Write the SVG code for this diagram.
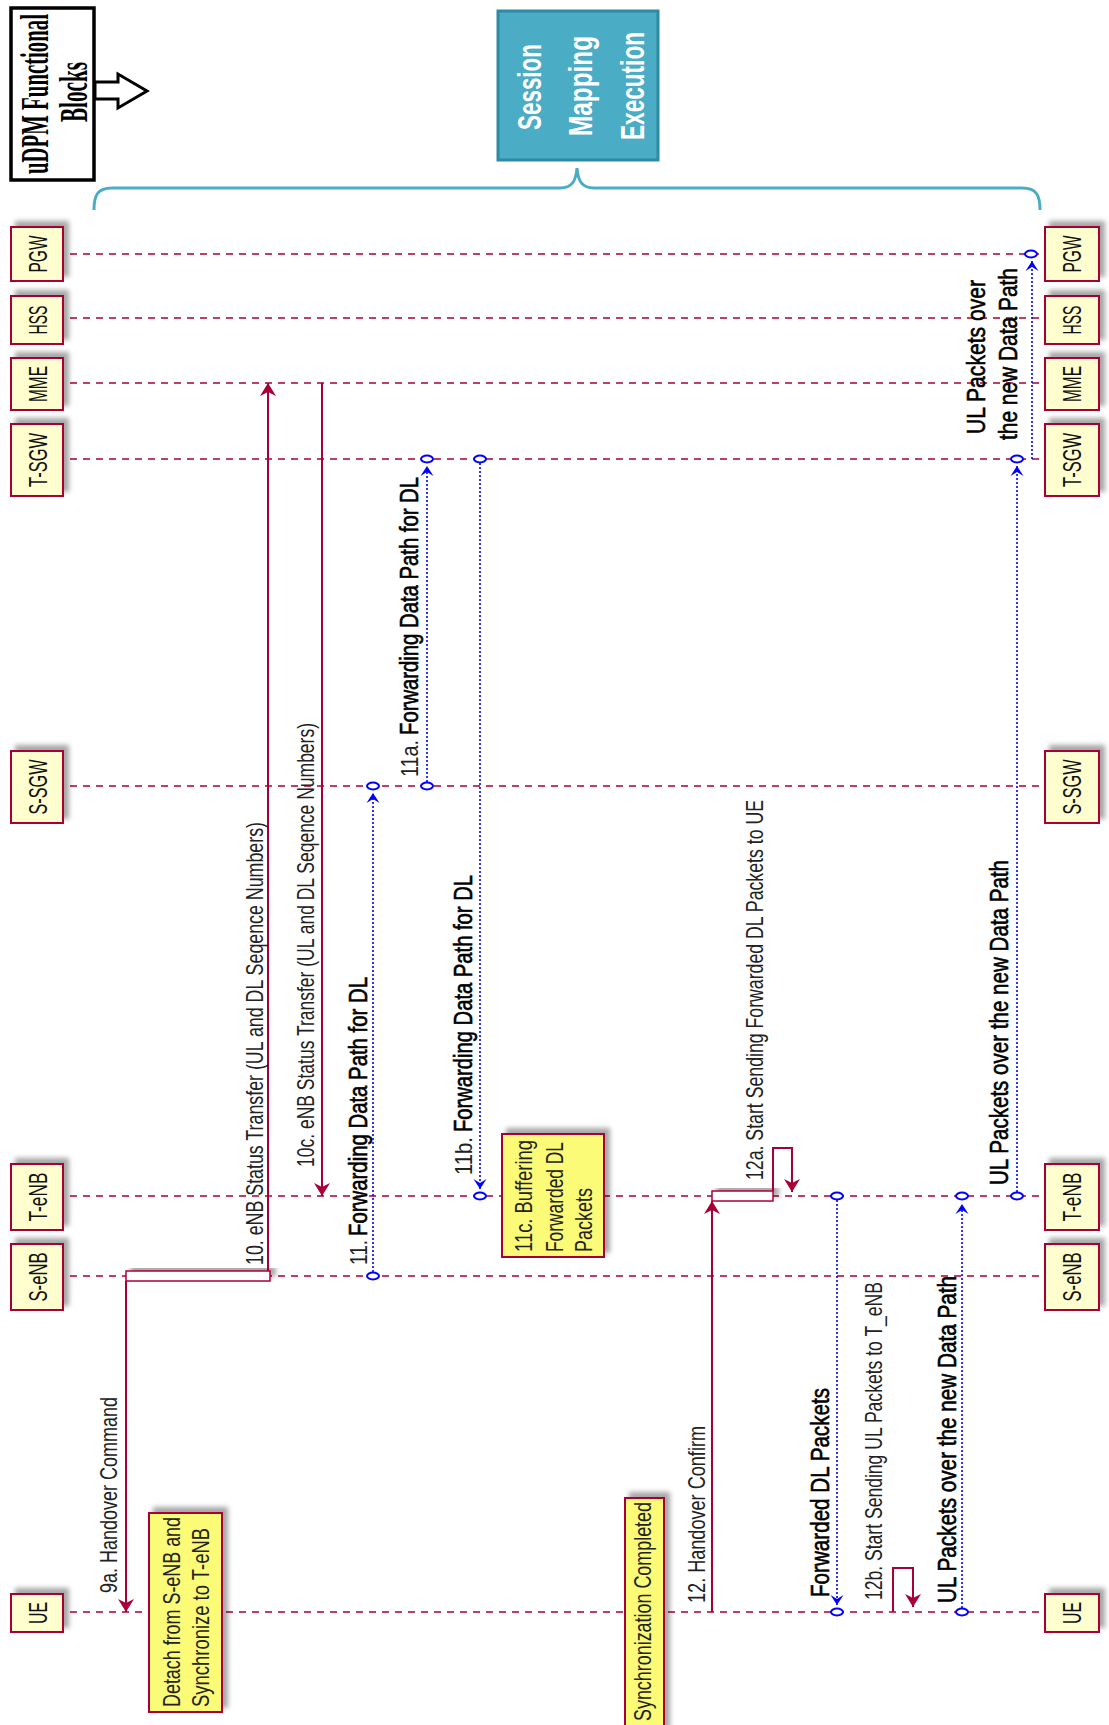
<svg xmlns="http://www.w3.org/2000/svg" width="1109" height="1725" viewBox="0 0 1109 1725">
<style>
.bg{fill:#ffffff}
.pbox{fill:#FEFECE;stroke:#A80036;stroke-width:2;filter:url(#sh)}
.ptxt{font-family:"Liberation Sans",Arial,sans-serif;font-size:26px;fill:#111;text-anchor:middle}
.life{stroke:#A80036;stroke-width:1.3;stroke-dasharray:7 6;fill:none}
.msg{stroke:#A80036;stroke-width:2;fill:none}
.dmsg{stroke:#0000FF;stroke-width:1.6;stroke-dasharray:2 2;fill:none}
.circ{fill:#ffffff;stroke:#0000FF;stroke-width:2}
.act{fill:#ffffff;stroke:#A80036;stroke-width:1.5;filter:url(#sh)}
.note{fill:#FBFB77;stroke:#A80036;stroke-width:2;filter:url(#sh)}
.lbl{font-family:"Liberation Sans",Arial,sans-serif;font-size:24px;fill:#222}
.blbl{font-family:"Liberation Sans",Arial,sans-serif;font-size:25px;font-weight:normal;fill:#000;stroke:#000;stroke-width:0.6}
.ntxt{font-family:"Liberation Sans",Arial,sans-serif;font-size:24px;fill:#222}
.sess{fill:#4BACC6;stroke:#2F89A2;stroke-width:3}
.stxt{font-family:"Liberation Sans",Arial,sans-serif;font-size:33px;font-weight:bold;fill:#ffffff;text-anchor:middle}
.utxt{font-family:"Liberation Serif","Times New Roman",serif;font-size:40px;font-weight:bold;fill:#000;text-anchor:middle}
.brace{fill:none;stroke:#4BACC6;stroke-width:3}
</style>
<defs>
<filter id="sh" x="-30%" y="-30%" width="160%" height="160%">
<feDropShadow dx="5" dy="-5" stdDeviation="2.5" flood-color="#000" flood-opacity="0.35"/>
</filter>
<marker id="ar" viewBox="-14 -9 15 18" refX="0" refY="0" markerWidth="15" markerHeight="18" markerUnits="userSpaceOnUse" orient="auto">
<path d="M0,0 L-13,-8 L-9,0 L-13,8 Z" fill="#A80036"/>
</marker>
<marker id="ab" viewBox="-11 -7 12 14" refX="0" refY="0" markerWidth="12" markerHeight="14" markerUnits="userSpaceOnUse" orient="auto">
<path d="M0,0 L-10,-6.5 L-6,0 L-10,6.5 Z" fill="#0000FF"/>
</marker>
</defs>
<rect class="bg" x="0" y="0" width="1109" height="1725"/>

<g id="header">
<rect x="11" y="8" width="83" height="172" fill="#fff" stroke="#000" stroke-width="3.5"/>
<text class="utxt" transform="translate(48,94) rotate(-90)" textLength="160" lengthAdjust="spacingAndGlyphs">uDPM Functional</text>
<text class="utxt" transform="translate(87,92) rotate(-90)" textLength="60" lengthAdjust="spacingAndGlyphs">Blocks</text>
<polygon points="95,82 118,82 118,74 147,91 118,108 118,99 95,99" fill="#fff" stroke="#000" stroke-width="3" stroke-linejoin="miter"/>
</g>

<g id="session">
<rect class="sess" x="498" y="11" width="160" height="149"/>
<text class="stxt" transform="translate(541,87) rotate(-90)" textLength="86" lengthAdjust="spacingAndGlyphs">Session</text>
<text class="stxt" transform="translate(592,86) rotate(-90)" textLength="100" lengthAdjust="spacingAndGlyphs">Mapping</text>
<text class="stxt" transform="translate(644,86) rotate(-90)" textLength="108" lengthAdjust="spacingAndGlyphs">Execution</text>
<path class="brace" d="M94,210 C94,196 97,188 112,188 L560,188 C572,188 576,181 577,168 C578,181 582,188 594,188 L1022,188 C1037,188 1040,196 1040,210"/>
</g>

<g id="lifelines">
<line class="life" x1="70" y1="254" x2="1045" y2="254"/>
<line class="life" x1="70" y1="318" x2="1045" y2="318"/>
<line class="life" x1="70" y1="383" x2="1045" y2="383"/>
<line class="life" x1="70" y1="459" x2="1045" y2="459"/>
<line class="life" x1="70" y1="786" x2="1045" y2="786"/>
<line class="life" x1="70" y1="1196" x2="1045" y2="1196"/>
<line class="life" x1="70" y1="1276" x2="1045" y2="1276"/>
<line class="life" x1="70" y1="1612" x2="1045" y2="1612"/>
</g>

<g id="PGW">
<rect class="pbox" x="11" y="227" width="52" height="54"/>
<text class="ptxt" transform="translate(47,254) rotate(-90)" textLength="37" lengthAdjust="spacingAndGlyphs">PGW</text>
<rect class="pbox" x="1045" y="227" width="54" height="54"/>
<text class="ptxt" transform="translate(1081,254) rotate(-90)" textLength="37" lengthAdjust="spacingAndGlyphs">PGW</text>
</g>
<g id="HSS">
<rect class="pbox" x="11" y="296" width="52" height="48"/>
<text class="ptxt" transform="translate(47,320) rotate(-90)" textLength="29" lengthAdjust="spacingAndGlyphs">HSS</text>
<rect class="pbox" x="1045" y="296" width="54" height="48"/>
<text class="ptxt" transform="translate(1081,320) rotate(-90)" textLength="29" lengthAdjust="spacingAndGlyphs">HSS</text>
</g>
<g id="MME">
<rect class="pbox" x="11" y="358" width="52" height="52"/>
<text class="ptxt" transform="translate(47,384) rotate(-90)" textLength="36" lengthAdjust="spacingAndGlyphs">MME</text>
<rect class="pbox" x="1045" y="358" width="54" height="52"/>
<text class="ptxt" transform="translate(1081,384) rotate(-90)" textLength="36" lengthAdjust="spacingAndGlyphs">MME</text>
</g>
<g id="T-SGW">
<rect class="pbox" x="11" y="424" width="52" height="72"/>
<text class="ptxt" transform="translate(47,460) rotate(-90)" textLength="54" lengthAdjust="spacingAndGlyphs">T-SGW</text>
<rect class="pbox" x="1045" y="424" width="54" height="72"/>
<text class="ptxt" transform="translate(1081,460) rotate(-90)" textLength="54" lengthAdjust="spacingAndGlyphs">T-SGW</text>
</g>
<g id="S-SGW">
<rect class="pbox" x="11" y="751" width="52" height="72"/>
<text class="ptxt" transform="translate(47,787) rotate(-90)" textLength="55" lengthAdjust="spacingAndGlyphs">S-SGW</text>
<rect class="pbox" x="1045" y="751" width="54" height="72"/>
<text class="ptxt" transform="translate(1081,787) rotate(-90)" textLength="55" lengthAdjust="spacingAndGlyphs">S-SGW</text>
</g>
<g id="T-eNB">
<rect class="pbox" x="11" y="1164" width="52" height="66"/>
<text class="ptxt" transform="translate(47,1197) rotate(-90)" textLength="49" lengthAdjust="spacingAndGlyphs">T-eNB</text>
<rect class="pbox" x="1045" y="1164" width="54" height="66"/>
<text class="ptxt" transform="translate(1081,1197) rotate(-90)" textLength="49" lengthAdjust="spacingAndGlyphs">T-eNB</text>
</g>
<g id="S-eNB">
<rect class="pbox" x="11" y="1244" width="52" height="66"/>
<text class="ptxt" transform="translate(47,1277) rotate(-90)" textLength="49" lengthAdjust="spacingAndGlyphs">S-eNB</text>
<rect class="pbox" x="1045" y="1244" width="54" height="66"/>
<text class="ptxt" transform="translate(1081,1277) rotate(-90)" textLength="49" lengthAdjust="spacingAndGlyphs">S-eNB</text>
</g>
<g id="UE">
<rect class="pbox" x="11" y="1594" width="52" height="38"/>
<text class="ptxt" transform="translate(47,1613) rotate(-90)" textLength="22" lengthAdjust="spacingAndGlyphs">UE</text>
<rect class="pbox" x="1045" y="1594" width="54" height="38"/>
<text class="ptxt" transform="translate(1081,1613) rotate(-90)" textLength="22" lengthAdjust="spacingAndGlyphs">UE</text>
</g>

<g id="activations">
<rect class="act" x="126" y="1271" width="144" height="10"/>
<rect class="act" x="712" y="1191" width="61" height="10"/>
</g>

<g id="notes">
<g id="note-detach">
<rect class="note" x="149" y="1513" width="73" height="199"/>
<text class="ntxt" transform="translate(180,1707) rotate(-90)" textLength="190" lengthAdjust="spacingAndGlyphs">Detach from S-eNB and</text>
<text class="ntxt" transform="translate(209,1707) rotate(-90)" textLength="179" lengthAdjust="spacingAndGlyphs">Synchronize to T-eNB</text>
</g>
<g id="note-11c">
<rect class="note" x="502" y="1134" width="102" height="123"/>
<text class="ntxt" transform="translate(532,1252) rotate(-90)" textLength="112" lengthAdjust="spacingAndGlyphs">11c. Buffering</text>
<text class="ntxt" transform="translate(563,1252) rotate(-90)" textLength="110" lengthAdjust="spacingAndGlyphs">Forwarded DL</text>
<text class="ntxt" transform="translate(592,1252) rotate(-90)" textLength="64" lengthAdjust="spacingAndGlyphs">Packets</text>
</g>
<g id="note-sync">
<rect class="note" x="625" y="1498" width="39" height="235"/>
<text class="ntxt" transform="translate(651,1721) rotate(-90)" textLength="219" lengthAdjust="spacingAndGlyphs">Synchronization Completed</text>
</g>
</g>

<g id="connectors">
<path class="msg" d="M126,1281 V1612" marker-end="url(#ar)"/>
<path class="msg" d="M268,1271 V383" marker-end="url(#ar)"/>
<path class="msg" d="M322,383 V1196" marker-end="url(#ar)"/>
<path class="msg" d="M712,1612 V1201" marker-end="url(#ar)"/>
<path class="msg" d="M773,1191 V1148 H792 V1192" marker-end="url(#ar)"/>
<path class="msg" d="M893,1612 V1568 H913 V1607" marker-end="url(#ar)"/>

<path class="dmsg" d="M373,1276 V793" marker-end="url(#ab)"/>
<path class="dmsg" d="M427,786 V466" marker-end="url(#ab)"/>
<path class="dmsg" d="M480,459 V1189" marker-end="url(#ab)"/>
<path class="dmsg" d="M837,1196 V1605" marker-end="url(#ab)"/>
<path class="dmsg" d="M962,1612 V1204" marker-end="url(#ab)"/>
<path class="dmsg" d="M1017,1196 V466" marker-end="url(#ab)"/>
<path class="dmsg" d="M1032,459 V261" marker-end="url(#ab)"/>

<ellipse class="circ" cx="373" cy="1276" rx="6" ry="3.5"/>
<ellipse class="circ" cx="373" cy="786" rx="6" ry="3.5"/>
<ellipse class="circ" cx="427" cy="786" rx="6" ry="3.5"/>
<ellipse class="circ" cx="427" cy="459" rx="6" ry="3.5"/>
<ellipse class="circ" cx="480" cy="459" rx="6" ry="3.5"/>
<ellipse class="circ" cx="480" cy="1196" rx="6" ry="3.5"/>
<ellipse class="circ" cx="837" cy="1196" rx="6" ry="3.5"/>
<ellipse class="circ" cx="837" cy="1612" rx="6" ry="3.5"/>
<ellipse class="circ" cx="962" cy="1612" rx="6" ry="3.5"/>
<ellipse class="circ" cx="962" cy="1196" rx="6" ry="3.5"/>
<ellipse class="circ" cx="1017" cy="1196" rx="6" ry="3.5"/>
<ellipse class="circ" cx="1017" cy="459" rx="6" ry="3.5"/>
<ellipse class="circ" cx="1031" cy="254" rx="6" ry="3.5"/>

<text class="lbl" transform="translate(117,1593) rotate(-90)" textLength="196" lengthAdjust="spacingAndGlyphs">9a. Handover Command</text>
<text class="lbl" transform="translate(263,1265) rotate(-90)" textLength="443" lengthAdjust="spacingAndGlyphs">10. eNB Status Transfer (UL and DL Seqence Numbers)</text>
<text class="lbl" transform="translate(314,1167) rotate(-90)" textLength="444" lengthAdjust="spacingAndGlyphs">10c. eNB Status Transfer (UL and DL Seqence Numbers)</text>
<text class="lbl" transform="translate(367,1265) rotate(-90)" textLength="25" lengthAdjust="spacingAndGlyphs">11.</text>
<text class="blbl" transform="translate(367,1236) rotate(-90)" textLength="259" lengthAdjust="spacingAndGlyphs">Forwarding Data Path for DL</text>
<text class="lbl" transform="translate(418,777) rotate(-90)" textLength="37" lengthAdjust="spacingAndGlyphs">11a.</text>
<text class="blbl" transform="translate(418,735) rotate(-90)" textLength="258" lengthAdjust="spacingAndGlyphs">Forwarding Data Path for DL</text>
<text class="lbl" transform="translate(472,1175) rotate(-90)" textLength="38" lengthAdjust="spacingAndGlyphs">11b.</text>
<text class="blbl" transform="translate(472,1132) rotate(-90)" textLength="257" lengthAdjust="spacingAndGlyphs">Forwarding Data Path for DL</text>
<text class="lbl" transform="translate(705,1603) rotate(-90)" textLength="177" lengthAdjust="spacingAndGlyphs">12. Handover Confirm</text>
<text class="lbl" transform="translate(763,1180) rotate(-90)" textLength="380" lengthAdjust="spacingAndGlyphs">12a. Start Sending Forwarded DL Packets to UE</text>
<text class="blbl" transform="translate(829,1597) rotate(-90)" textLength="209" lengthAdjust="spacingAndGlyphs">Forwarded DL Packets</text>
<text class="lbl" transform="translate(882,1600) rotate(-90)" textLength="318" lengthAdjust="spacingAndGlyphs">12b. Start Sending UL Packets to T_eNB</text>
<text class="blbl" transform="translate(956,1603) rotate(-90)" textLength="327" lengthAdjust="spacingAndGlyphs">UL Packets over the new Data Path</text>
<text class="blbl" transform="translate(1008,1185) rotate(-90)" textLength="325" lengthAdjust="spacingAndGlyphs">UL Packets over the new Data Path</text>
<text class="blbl" transform="translate(985,434) rotate(-90)" textLength="154" lengthAdjust="spacingAndGlyphs">UL Packets over</text>
<text class="blbl" transform="translate(1017,440) rotate(-90)" textLength="172" lengthAdjust="spacingAndGlyphs">the new Data Path</text>
</g>
</svg>
